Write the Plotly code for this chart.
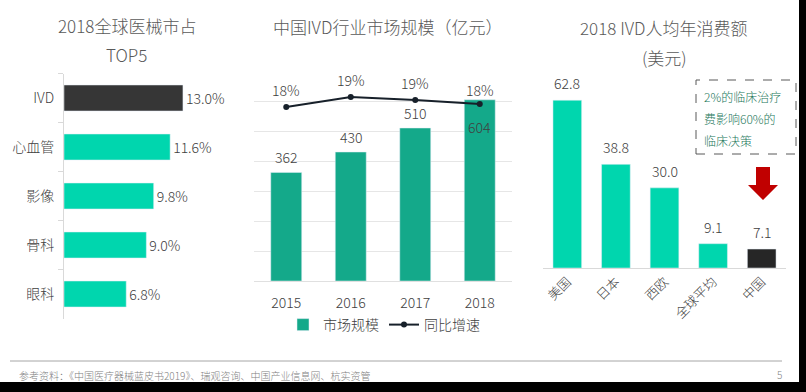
import plotly.graph_objects as go

W, H = 806, 392
FONT = "Noto Sans CJK SC"
WEIGHT = 300

# ---- data ----
share_categories = ["IVD", "心血管", "影像", "骨科", "眼科"]
share_values = [13.0, 11.6, 9.8, 9.0, 6.8]

years = ["2015", "2016", "2017", "2018"]
market_size = [362, 430, 510, 604]
growth_rate = [17.9, 18.9, 18.6, 18.2]
growth_labels = ["18%", "19%", "19%", "18%"]

regions = ["美国", "日本", "西欧", "全球平均", "中国"]
per_capita = [62.8, 38.8, 30.0, 9.1, 7.1]

box_lines = ["2%的临床治疗", "费影响60%的", "临床决策"]
footer_text = "参考资料：《中国医疗器械蓝皮书2019》、瑞观咨询、中国产业信息网、杭实资管"
page_number = "5"

TEAL = "#00D6AE"
TEAL_DARK = "#14A98A"
DARK = "#363636"
TXT = "#404040"
TITLE = "#595959"


def px(x):
    return x / W


def py(y):
    return 1 - y / H


def f(size, color=TXT):
    return dict(size=size, color=color, family=FONT, weight=WEIGHT)


fig = go.Figure()

# left: horizontal bars
fig.add_trace(go.Bar(
    y=share_categories, x=share_values, orientation="h",
    marker_color=[DARK] + [TEAL] * (len(share_values) - 1),
    width=0.53,
    text=[f"{v:.1f}%" for v in share_values], textposition="outside",
    textfont=f(14),
    cliponaxis=False, showlegend=False, xaxis="x", yaxis="y",
    hoverinfo="skip",
))

# middle: bars + line
fig.add_trace(go.Bar(
    x=years, y=market_size, name="市场规模", marker_color=TEAL_DARK,
    width=0.48, xaxis="x2", yaxis="y2", showlegend=True, hoverinfo="skip",
))
fig.add_trace(go.Scatter(
    x=years, y=growth_rate, name="同比增速", mode="lines+markers",
    line=dict(color="#17202A", width=2), marker=dict(size=6, color="#17202A"),
    xaxis="x2", yaxis="y3", showlegend=True, hoverinfo="skip",
))

# right: vertical bars
fig.add_trace(go.Bar(
    x=regions, y=per_capita,
    marker_color=[TEAL] * (len(per_capita) - 1) + ["#262626"],
    width=0.59, xaxis="x3", yaxis="y4", showlegend=False, hoverinfo="skip",
))

annotations = []
# titles
for text, x, y in [("2018全球医械市占", 127, 25), ("TOP5", 127, 55),
                   ("中国IVD行业市场规模（亿元）", 387, 27),
                   ("2018 IVD人均年消费额", 664, 28), ("(美元)", 664, 57)]:
    annotations.append(dict(text=text, x=px(x), y=py(y), xref="paper", yref="paper",
                            xanchor="center", yanchor="middle", showarrow=False,
                            font=f(17, TITLE)))

# middle bar labels (x given as category index)
for i, v in enumerate(market_size):
    inside = i == len(market_size) - 1
    annotations.append(dict(text=str(v), x=i, y=v, xref="x2", yref="y2",
                            yshift=-27 if inside else 15, showarrow=False,
                            font=f(14)))
# line labels
for i, (v, lab) in enumerate(zip(growth_rate, growth_labels)):
    annotations.append(dict(text=lab, x=i, y=v, xref="x2", yref="y3",
                            yshift=14 if i == len(years) - 1 else 17, showarrow=False,
                            font=f(14)))
# right bar labels
for i, v in enumerate(per_capita):
    annotations.append(dict(text=f"{v:.1f}", x=i, y=v, xref="x3", yref="y4",
                            yshift=17, showarrow=False,
                            font=f(14)))
# box text
for k, line in enumerate(box_lines):
    annotations.append(dict(text=line, x=px(702), y=py(96 + 22.5 * k), xref="paper", yref="paper",
                            xanchor="left", yanchor="middle", showarrow=False,
                            font=f(12, "#23775A")))
# footer
annotations.append(dict(text=footer_text, x=px(17), y=py(375), xref="paper", yref="paper",
                        xanchor="left", yanchor="middle", showarrow=False,
                        font=f(10, "#7f7f7f")))
annotations.append(dict(text=page_number, x=px(779), y=py(374), xref="paper", yref="paper",
                        xanchor="center", yanchor="middle", showarrow=False,
                        font=f(10, "#7f7f7f")))

shapes = [
    # dashed box
    dict(type="rect", xref="paper", yref="paper", x0=px(696), x1=px(796), y0=py(154), y1=py(80),
         line=dict(color="#595959", width=1, dash="dash"), fillcolor="rgba(0,0,0,0)"),
    # red arrow
    dict(type="path", xref="paper", yref="paper",
         path=(f"M {px(756)} {py(167)} L {px(770)} {py(167)} L {px(770)} {py(185)} "
               f"L {px(778)} {py(185)} L {px(763)} {py(200)} L {px(748)} {py(185)} "
               f"L {px(756)} {py(185)} Z"),
         fillcolor="#C00000", line=dict(width=0)),
    # footer line
    dict(type="line", xref="paper", yref="paper", x0=px(10), x1=px(782), y0=py(361), y1=py(361),
         line=dict(color="#a6a6a6", width=1)),
    # black borders
    dict(type="rect", xref="paper", yref="paper", x0=px(799), x1=1, y0=0, y1=1,
         fillcolor="black", line=dict(width=0)),
    dict(type="rect", xref="paper", yref="paper", x0=0, x1=1, y0=0, y1=py(382),
         fillcolor="black", line=dict(width=0)),
]

fig.update_layout(
    width=W, height=H, margin=dict(l=0, r=0, t=0, b=0),
    paper_bgcolor="white", plot_bgcolor="rgba(0,0,0,0)",
    font=dict(family=FONT, color=TXT, weight=WEIGHT),
    barmode="group",
    xaxis=dict(domain=[px(64), px(240)], range=[0, 176 / 9.15], visible=False, anchor="y"),
    yaxis=dict(domain=[py(318.5), py(73.5)], type="category", autorange="reversed",
               showline=True, linecolor="#d9d9d9", ticks="outside", tickson="boundaries",
               ticklen=5, tickcolor="#d9d9d9", showgrid=False, anchor="x",
               tickfont=f(14), ticklabelstandoff=6),
    xaxis2=dict(domain=[px(254), px(512)], type="category", range=[-0.5, len(years) - 0.5],
                showline=False, showgrid=False,
                ticks="", anchor="y2", tickfont=f(14), ticklabelstandoff=12),
    yaxis2=dict(domain=[py(281), py(71)], range=[0, 700], dtick=100, showgrid=True,
                gridcolor="#e6e6e6", gridwidth=1, zeroline=True, zerolinecolor="#e0e0e0",
                zerolinewidth=1, showticklabels=False, anchor="x2"),
    yaxis3=dict(overlaying="y2", range=[0.5, 21.5], visible=False, anchor="x2"),
    xaxis3=dict(domain=[px(543), px(786)], type="category", range=[-0.5, len(regions) - 0.5],
                showline=True, linecolor="#d9d9d9",
                ticks="", tickangle=-45, anchor="y4", showgrid=False,
                tickfont=f(13)),
    yaxis4=dict(domain=[py(268), py(81)], range=[0, 70], visible=False, anchor="x3"),
    legend=dict(orientation="h", x=px(384), xanchor="center", y=py(325), yanchor="middle",
                font=f(14), bgcolor="rgba(0,0,0,0)", itemwidth=30,
                tracegroupgap=0),
    annotations=annotations, shapes=shapes,
)

fig.write_html("out.html", config={"displayModeBar": False},
               post_script="document.body.style.margin='0';document.body.style.overflow='hidden';")
